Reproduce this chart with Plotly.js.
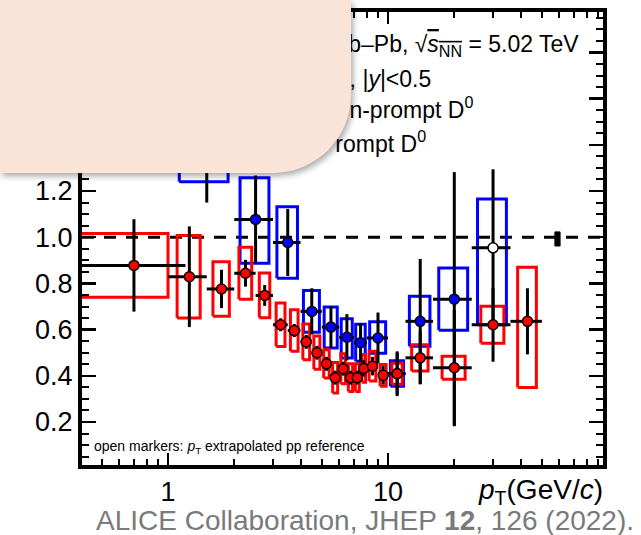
<!DOCTYPE html>
<html><head><meta charset="utf-8">
<script src="https://cdn.plot.ly/plotly-3.0.1.min.js"></script>
<style>
html,body{margin:0;padding:0;background:#fff;}
#wrap{position:relative;width:641px;height:535px;overflow:hidden;}
#chart{position:absolute;left:0;top:0;width:641px;height:535px;}
#overlay{position:absolute;left:0;top:0;width:351px;height:173px;background:#FAE4D8;border-bottom-right-radius:78px;box-shadow:2px 3px 6px rgba(0,0,0,0.35);z-index:10;}
</style></head>
<body><div id="wrap"><div id="chart"></div><div id="overlay"></div></div>
<script>
// ---- Prompt D0 (red) ----
const ptLoP = [0,1,1.5,2,2.5,3,3.5,4,4.5,5,5.5,6,6.5,7,7.5,8,9,10,12,16,24,36];
const ptHiP = [1,1.5,2,2.5,3,3.5,4,4.5,5,5.5,6,6.5,7,7.5,8,9,10,12,16,24,36,50];
const ptP   = [0.7,1.25,1.75,2.25,2.75,3.25,3.75,4.25,4.75,5.25,5.75,6.25,6.75,7.25,7.75,8.5,9.5,11,14,20,30,43];
const raaP  = [0.878,0.829,0.776,0.844,0.748,0.621,0.596,0.547,0.500,0.452,0.392,0.431,0.392,0.392,0.432,0.442,0.402,0.409,0.478,0.435,0.621,0.636];
const statP = [0.200,0.218,0.083,0.058,0.045,0.028,0.028,0.030,0.030,0.030,0.030,0.030,0.030,0.030,0.035,0.040,0.040,0.097,0.115,0.250,0.160,0.143];
const sysUpP = [0.138,0.179,0.118,0.113,0.097,0.094,0.090,0.077,0.072,0.061,0.066,0.065,0.060,0.060,0.060,0.064,0.047,0.045,0.057,0.050,0.080,0.234];
const sysDnP = [0.138,0.179,0.118,0.113,0.097,0.094,0.090,0.077,0.072,0.061,0.066,0.065,0.060,0.060,0.060,0.064,0.047,0.045,0.057,0.050,0.080,0.287];

// ---- Non-prompt D0 (blue) ----
const ptLoNP = [1,2,3,4,5,6,7,8,10,12,16,24];
const ptHiNP = [2,3,4,5,6,7,8,10,12,16,24,36];
const ptNP   = [1.5,2.5,3.5,4.5,5.5,6.5,7.5,9,11,14,20,30];
const raaNP  = [1.40,1.077,0.977,0.679,0.611,0.567,0.543,0.564,0.410,0.636,0.732,0.954];
const statNP = [0.25,0.19,0.145,0.10,0.09,0.10,0.085,0.11,0.09,0.27,0.55,0.34];
const sysUpNP = [0.16,0.18,0.155,0.09,0.087,0.08,0.08,0.07,0.055,0.108,0.135,0.212];
const sysDnNP = [0.16,0.19,0.155,0.09,0.09,0.09,0.08,0.066,0.055,0.108,0.135,0.333];
const openNP  = [0,0,0,0,0,0,0,0,0,0,0,1];   // pT-extrapolated pp reference

// global normalisation uncertainty
const normUncPt = [57.3, 60.5];
const normUncRaa = [0.962, 1.023];

// tick labels
const xMajorTicks = [1, 10];
const xMajorText = ['1', '10'];
const xMinorTicks = [0.5,0.6,0.7,0.8,0.9,2,3,4,5,6,7,8,9,20,30,40,50,60,70,80,90];

const FONT = 'Liberation Sans, Arial, Helvetica, sans-serif';

function boxes(pt, lo, hi, frac, y, up, dn) {
  const X = [], Y = [];
  for (let i = 0; i < pt.length; i++) {
    const hw = frac * (hi[i] - lo[i]);
    const a = pt[i] - hw, b = pt[i] + hw;
    const t = y[i] + up[i], d = y[i] - dn[i];
    X.push(a, b, b, a, a, null);
    Y.push(d, d, t, t, d, null);
  }
  return {X, Y};
}
const halfW = (lo, hi) => lo.map((v, i) => (hi[i] - v) / 2);

const bNP = boxes(ptNP, ptLoNP, ptHiNP, 0.375, raaNP, sysUpNP, sysDnNP);
const bP  = boxes(ptP, ptLoP, ptHiP, 0.30, raaP, sysUpP, sysDnP);

const traces = [
  {x: bNP.X, y: bNP.Y, mode: 'lines', line: {color: '#0000ff', width: 3}, hoverinfo: 'skip'},
  {x: bP.X, y: bP.Y, mode: 'lines', line: {color: '#ff0000', width: 3}, hoverinfo: 'skip'},
  {x: [normUncPt[0], normUncPt[1], normUncPt[1], normUncPt[0], normUncPt[0]],
   y: [normUncRaa[0], normUncRaa[0], normUncRaa[1], normUncRaa[1], normUncRaa[0]],
   mode: 'lines', fill: 'toself', fillcolor: 'black', line: {color: 'black', width: 1}, hoverinfo: 'skip'},
  {x: ptNP, y: raaNP, mode: 'markers',
   error_y: {type: 'data', array: statNP, color: 'black', thickness: 3, width: 0},
   error_x: {type: 'data', array: halfW(ptLoNP, ptHiNP), color: 'black', thickness: 3, width: 0},
   marker: {size: 10, color: openNP.map(o => o ? '#ffffff' : '#0000ff'), line: {color: 'black', width: 1.5}}},
  {x: ptP, y: raaP, mode: 'markers',
   error_y: {type: 'data', array: statP, color: 'black', thickness: 3, width: 0},
   error_x: {type: 'data', array: halfW(ptLoP, ptHiP), color: 'black', thickness: 3, width: 0},
   marker: {size: 10, color: '#ff0000', line: {color: 'black', width: 1.5}}}
];

const layout = {
  width: 641, height: 535,
  margin: {l: 82, r: 38, t: 12, b: 70, pad: 0},
  paper_bgcolor: 'white', plot_bgcolor: 'white',
  showlegend: false,
  font: {family: FONT, color: 'black'},
  xaxis: {
    type: 'log', range: [Math.log10(0.4065), Math.log10(94.8)],
    tickvals: xMajorTicks, ticktext: xMajorText,
    ticks: 'inside', ticklen: 12, tickwidth: 2.5, tickcolor: 'black',
    showline: true, linewidth: 4, linecolor: 'black', mirror: 'allticks',
    showgrid: false, zeroline: false, tickfont: {size: 27, family: FONT},
    minor: {tickvals: xMinorTicks, ticks: 'inside', ticklen: 6, tickwidth: 2, tickcolor: 'black', showgrid: false}
  },
  yaxis: {
    range: [0.014, 1.975], tick0: 0, dtick: 0.2, tickformat: '.1f',
    ticks: 'inside', ticklen: 14, tickwidth: 2.5, tickcolor: 'black',
    showline: true, linewidth: 4, linecolor: 'black', mirror: 'allticks',
    showgrid: false, zeroline: false, tickfont: {size: 27, family: FONT},
    minor: {dtick: 0.05, ticks: 'inside', ticklen: 7, tickwidth: 2, tickcolor: 'black', showgrid: false}
  },
  shapes: [
    {type: 'line', xref: 'paper', x0: 0, x1: 1, yref: 'y', y0: 1, y1: 1, layer: 'below',
     line: {color: 'black', width: 3, dash: '12px,10px'}}
  ],
  annotations: [
    {xref: 'paper', yref: 'paper', x: 0.957, y: 0.927, xanchor: 'right', yanchor: 'middle', showarrow: false,
     font: {size: 23, family: FONT},
     text: 'ALICE Pb–Pb, √<span style="text-decoration:overline;font-style:italic">s</span><span style="text-decoration:overline"><sub>NN</sub></span> = 5.02 TeV'},
    {xref: 'paper', yref: 'paper', x: 0.6737, y: 0.852, xanchor: 'right', yanchor: 'middle', showarrow: false,
     font: {size: 23, family: FONT}, text: '0–10%, |<i>y</i>|<0.5'},
    {xref: 'paper', yref: 'paper', x: 0.7543, y: 0.788, xanchor: 'right', yanchor: 'middle', showarrow: false,
     font: {size: 23, family: FONT}, text: 'Non-prompt D<sup>0</sup>'},
    {xref: 'paper', yref: 'paper', x: 0.664, y: 0.714, xanchor: 'right', yanchor: 'middle', showarrow: false,
     font: {size: 23, family: FONT}, text: 'Prompt D<sup>0</sup>'},
    {xref: 'paper', yref: 'paper', x: -0.155, y: 1.02, xanchor: 'left', yanchor: 'top', showarrow: false,
     font: {size: 20, family: FONT}, text: '<i>R</i><sub>AA</sub>'},
    {xref: 'paper', yref: 'paper', x: 0.0192, y: 0.0397, xanchor: 'left', yanchor: 'middle', showarrow: false,
     font: {size: 14, family: FONT}, text: 'open markers: <i>p</i><sub>T</sub> extrapolated pp reference'},
    {xref: 'paper', yref: 'paper', x: 1.0038, y: -0.0596, xanchor: 'right', yanchor: 'middle', showarrow: false,
     font: {size: 28, family: FONT}, text: '<i>p</i><sub>T</sub>(GeV/<i>c</i>)'},
    {xref: 'paper', yref: 'paper', x: 1.0633, y: -0.1236, xanchor: 'right', yanchor: 'middle', showarrow: false,
     font: {size: 28, family: FONT, color: '#7a7a7a'}, text: 'ALICE Collaboration, JHEP <b>12</b>, 126 (2022).'}
  ]
};

Plotly.newPlot('chart', traces, layout, {displayModeBar: false, staticPlot: true});
</script></body></html>
